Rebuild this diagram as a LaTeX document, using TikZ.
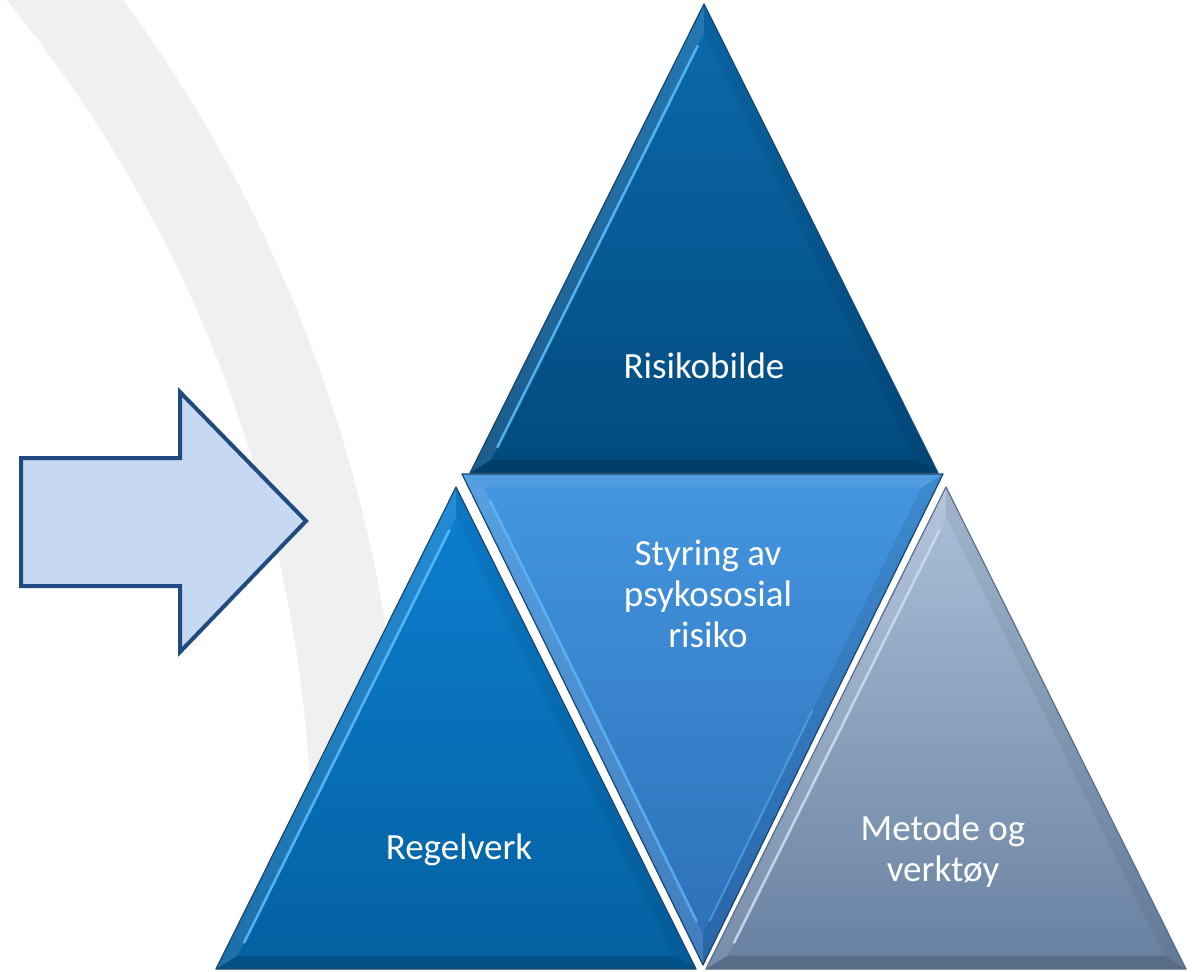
\documentclass[tikz,border=0pt]{standalone}
\usepackage{fontspec}
\setmainfont{Carlito}
\usetikzlibrary{calc}
\definecolor{bandgray}{RGB}{240,240,240}
\definecolor{arrowfill}{RGB}{198,217,240}
\definecolor{arrowline}{RGB}{33,74,128}
\definecolor{topA}{RGB}{12,106,172}
\definecolor{topB}{RGB}{2,74,126}
\definecolor{midA}{RGB}{68,150,224}
\definecolor{midB}{RGB}{44,110,182}
\definecolor{leftA}{RGB}{12,128,210}
\definecolor{leftB}{RGB}{4,96,160}
\definecolor{rightA}{RGB}{172,192,218}
\definecolor{rightB}{RGB}{104,128,160}
\definecolor{edgeblue}{RGB}{25,70,110}
\definecolor{edgegray}{RGB}{90,110,140}
\definecolor{hlblue}{RGB}{95,190,250}
\definecolor{hlgray}{RGB}{205,220,240}
% upright bevelled triangle: apex, left, right, incenter, top colour, bottom colour, edge colour, highlight colour
\newcommand{\bevup}[8]{%
  \coordinate (pA) at #1; \coordinate (pL) at #2; \coordinate (pR) at #3; \coordinate (pI) at #4;
  \coordinate (qA) at ($(pI)!0.91!(pA)$);
  \coordinate (qL) at ($(pI)!0.91!(pL)$);
  \coordinate (qR) at ($(pI)!0.91!(pR)$);
  \shade[top color=#5, bottom color=#6] (pA) -- (pL) -- (pR) -- cycle;
  \fill[white, opacity=0.10] (pA) -- (pL) -- (qL) -- (qA) -- cycle;
  \fill[black, opacity=0.06] (pA) -- (pR) -- (qR) -- (qA) -- cycle;
  \fill[black, opacity=0.16] (pL) -- (pR) -- (qR) -- (qL) -- cycle;
  \draw[#8, line width=1.3pt, opacity=0.85, line cap=round] ($(qA)!0.03!(qL)$) -- ($(qA)!0.97!(qL)$);
  \draw[#7, line width=0.6pt, line join=round] (pA) -- (pL) -- (pR) -- cycle;
}
% inverted bevelled triangle: top-left, top-right, bottom, incenter, colours
\newcommand{\bevdown}[8]{%
  \coordinate (pL) at #1; \coordinate (pR) at #2; \coordinate (pB) at #3; \coordinate (pI) at #4;
  \coordinate (qL) at ($(pI)!0.91!(pL)$);
  \coordinate (qR) at ($(pI)!0.91!(pR)$);
  \coordinate (qB) at ($(pI)!0.91!(pB)$);
  \shade[top color=#5, bottom color=#6] (pL) -- (pR) -- (pB) -- cycle;
  \fill[white, opacity=0.08] (pL) -- (pR) -- (qR) -- (qL) -- cycle;
  \fill[white, opacity=0.10] (pL) -- (pB) -- (qB) -- (qL) -- cycle;
  \fill[black, opacity=0.08] (pR) -- (pB) -- (qB) -- (qR) -- cycle;
  \draw[#8, line width=1.3pt, opacity=0.7, line cap=round] ($(qL)!0.03!(qB)$) -- ($(qL)!0.97!(qB)$);
  \draw[#8, line width=1pt, opacity=0.5, line cap=round] ($(qR)!0.5!(qB)$) -- ($(qR)!0.97!(qB)$);
  \draw[#7, line width=0.6pt, line join=round] (pL) -- (pR) -- (pB) -- cycle;
}
\begin{document}
\begin{tikzpicture}[x=0.5pt,y=-0.5pt,
  lbl/.style={text=white, font=\fontsize{18.5}{20.5}\selectfont, align=center, inner sep=0pt},
  arrowshape/.style={fill=arrowfill, draw=arrowline, line width=2pt, line join=miter}]
\useasboundingbox (0,0) rectangle (1193,971);
\clip (0,0) rectangle (1193,971);
\fill[white] (0,0) rectangle (1193,971);
% background arc band (annulus sector)
\fill[bandgray] plot[domain=46:-2, samples=90] ({-1041+1445*cos(\x)},{856-1445*sin(\x)})
  -- plot[domain=-2:46, samples=90] ({-1041+1353*cos(\x)},{856-1353*sin(\x)}) -- cycle;
% arrow
\draw[arrowshape] (21,458) -- (180,458) -- (180,392) -- (306,521) -- (180,652) -- (180,586) -- (21,586) -- cycle;
% triangles
\bevup{(704,4)}{(470,473)}{(938,473)}{(704,328.2)}{topA}{topB}{edgeblue}{hlblue}
\bevup{(456,487)}{(216,969)}{(696,969)}{(456,820.4)}{leftA}{leftB}{edgeblue}{hlblue}
\bevup{(946,487)}{(706,969)}{(1186,969)}{(946,820.4)}{rightA}{rightB}{edgegray}{hlgray}
\bevdown{(462,474)}{(943,474)}{(703,965)}{(703,623.8)}{midA}{midB}{edgeblue}{hlblue}
% labels
\node[lbl] (risk) at (704,366) {Risikobilde};
\node[lbl] (styr) at (708,594) {Styring av\\psykososial\\risiko};
\node[lbl] (regel) at (459,850) {Regelverk};
\node[lbl] (metode) at (943,851) {Metode og\\verktøy};
\end{tikzpicture}
\end{document}
